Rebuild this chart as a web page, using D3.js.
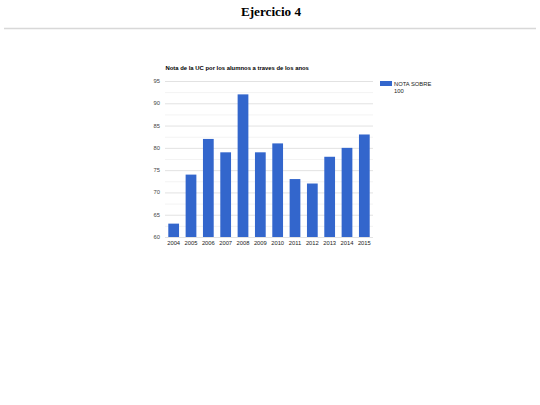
<!DOCTYPE html>
<html><head><meta charset="utf-8">
<script src="https://cdn.jsdelivr.net/npm/d3@7"></script>
<style>body{margin:0;background:#fff;}svg{display:block;}</style>
</head><body>
<svg id="c" width="540" height="405"></svg>
<script>
const years = ["2004","2005","2006","2007","2008","2009","2010","2011","2012","2013","2014","2015"];
const notas = [63,74,82,79,92,79,81,73,72,78,80,83];
const yTicks = [60,65,70,75,80,85,90,95];
const yMinor = [62.5,67.5,72.5,77.5,82.5,87.5,92.5];
const pageTitle = "Ejercicio 4";
const chartTitle = "Nota de la UC por los alumnos a traves de los anos";
const legendLines = ["NOTA SOBRE","100"];

const svg = d3.select("#c");
const F = "'Liberation Sans', Arial, sans-serif";

svg.append("text").attr("x",271).attr("y",15.5).attr("text-anchor","middle")
  .attr("font-family","'Liberation Serif','Times New Roman',serif").attr("font-weight","bold")
  .attr("font-size",13.2).attr("fill","#000").text(pageTitle);
svg.append("line").attr("x1",4).attr("x2",536).attr("y1",28.5).attr("y2",28.5)
  .attr("stroke","#d8d8d8").attr("stroke-width",1.5);

const x = d3.scaleBand().domain(years).range([165,373]).paddingInner(0.38).paddingOuter(0.19);
const y = d3.scaleLinear().domain([60,95]).range([237,81]);

svg.append("g").selectAll("line").data(yMinor).join("line")
  .attr("x1",165).attr("x2",373).attr("y1",d=>y(d)+0.5).attr("y2",d=>y(d)+0.5)
  .attr("stroke","#f3f3f3").attr("stroke-width",1);
svg.append("g").selectAll("line").data(yTicks).join("line")
  .attr("x1",165).attr("x2",373).attr("y1",d=>y(d)+0.5).attr("y2",d=>y(d)+0.5)
  .attr("stroke","#e2e2e2").attr("stroke-width",1);

svg.append("g").selectAll("rect").data(notas).join("rect")
  .attr("x",(d,i)=>x(years[i])).attr("width",x.bandwidth())
  .attr("y",d=>y(d)).attr("height",d=>y(60)-y(d)).attr("fill","#3366cc");

svg.append("g").selectAll("text").data(yTicks).join("text")
  .attr("x",160).attr("y",d=>y(d)+2).attr("text-anchor","end")
  .attr("font-family",F).attr("font-size",5.8).attr("fill","#444").text(d=>d);

svg.append("g").selectAll("text").data(years).join("text")
  .attr("x",d=>x(d)+x.bandwidth()/2).attr("y",244.5).attr("text-anchor","middle")
  .attr("font-family",F).attr("font-size",5.8).attr("fill","#222").text(d=>d);

svg.append("text").attr("x",165.5).attr("y",70).attr("font-family",F)
  .attr("font-weight","bold").attr("font-size",5.9).attr("fill","#000").text(chartTitle);

svg.append("rect").attr("x",380).attr("y",81).attr("width",12).attr("height",5).attr("fill","#3366cc");
svg.append("g").selectAll("text").data(legendLines).join("text")
  .attr("x",394).attr("y",(d,i)=>86+i*7).attr("font-family",F).attr("font-size",5.8)
  .attr("fill","#222").text(d=>d);
</script>
</body></html>
